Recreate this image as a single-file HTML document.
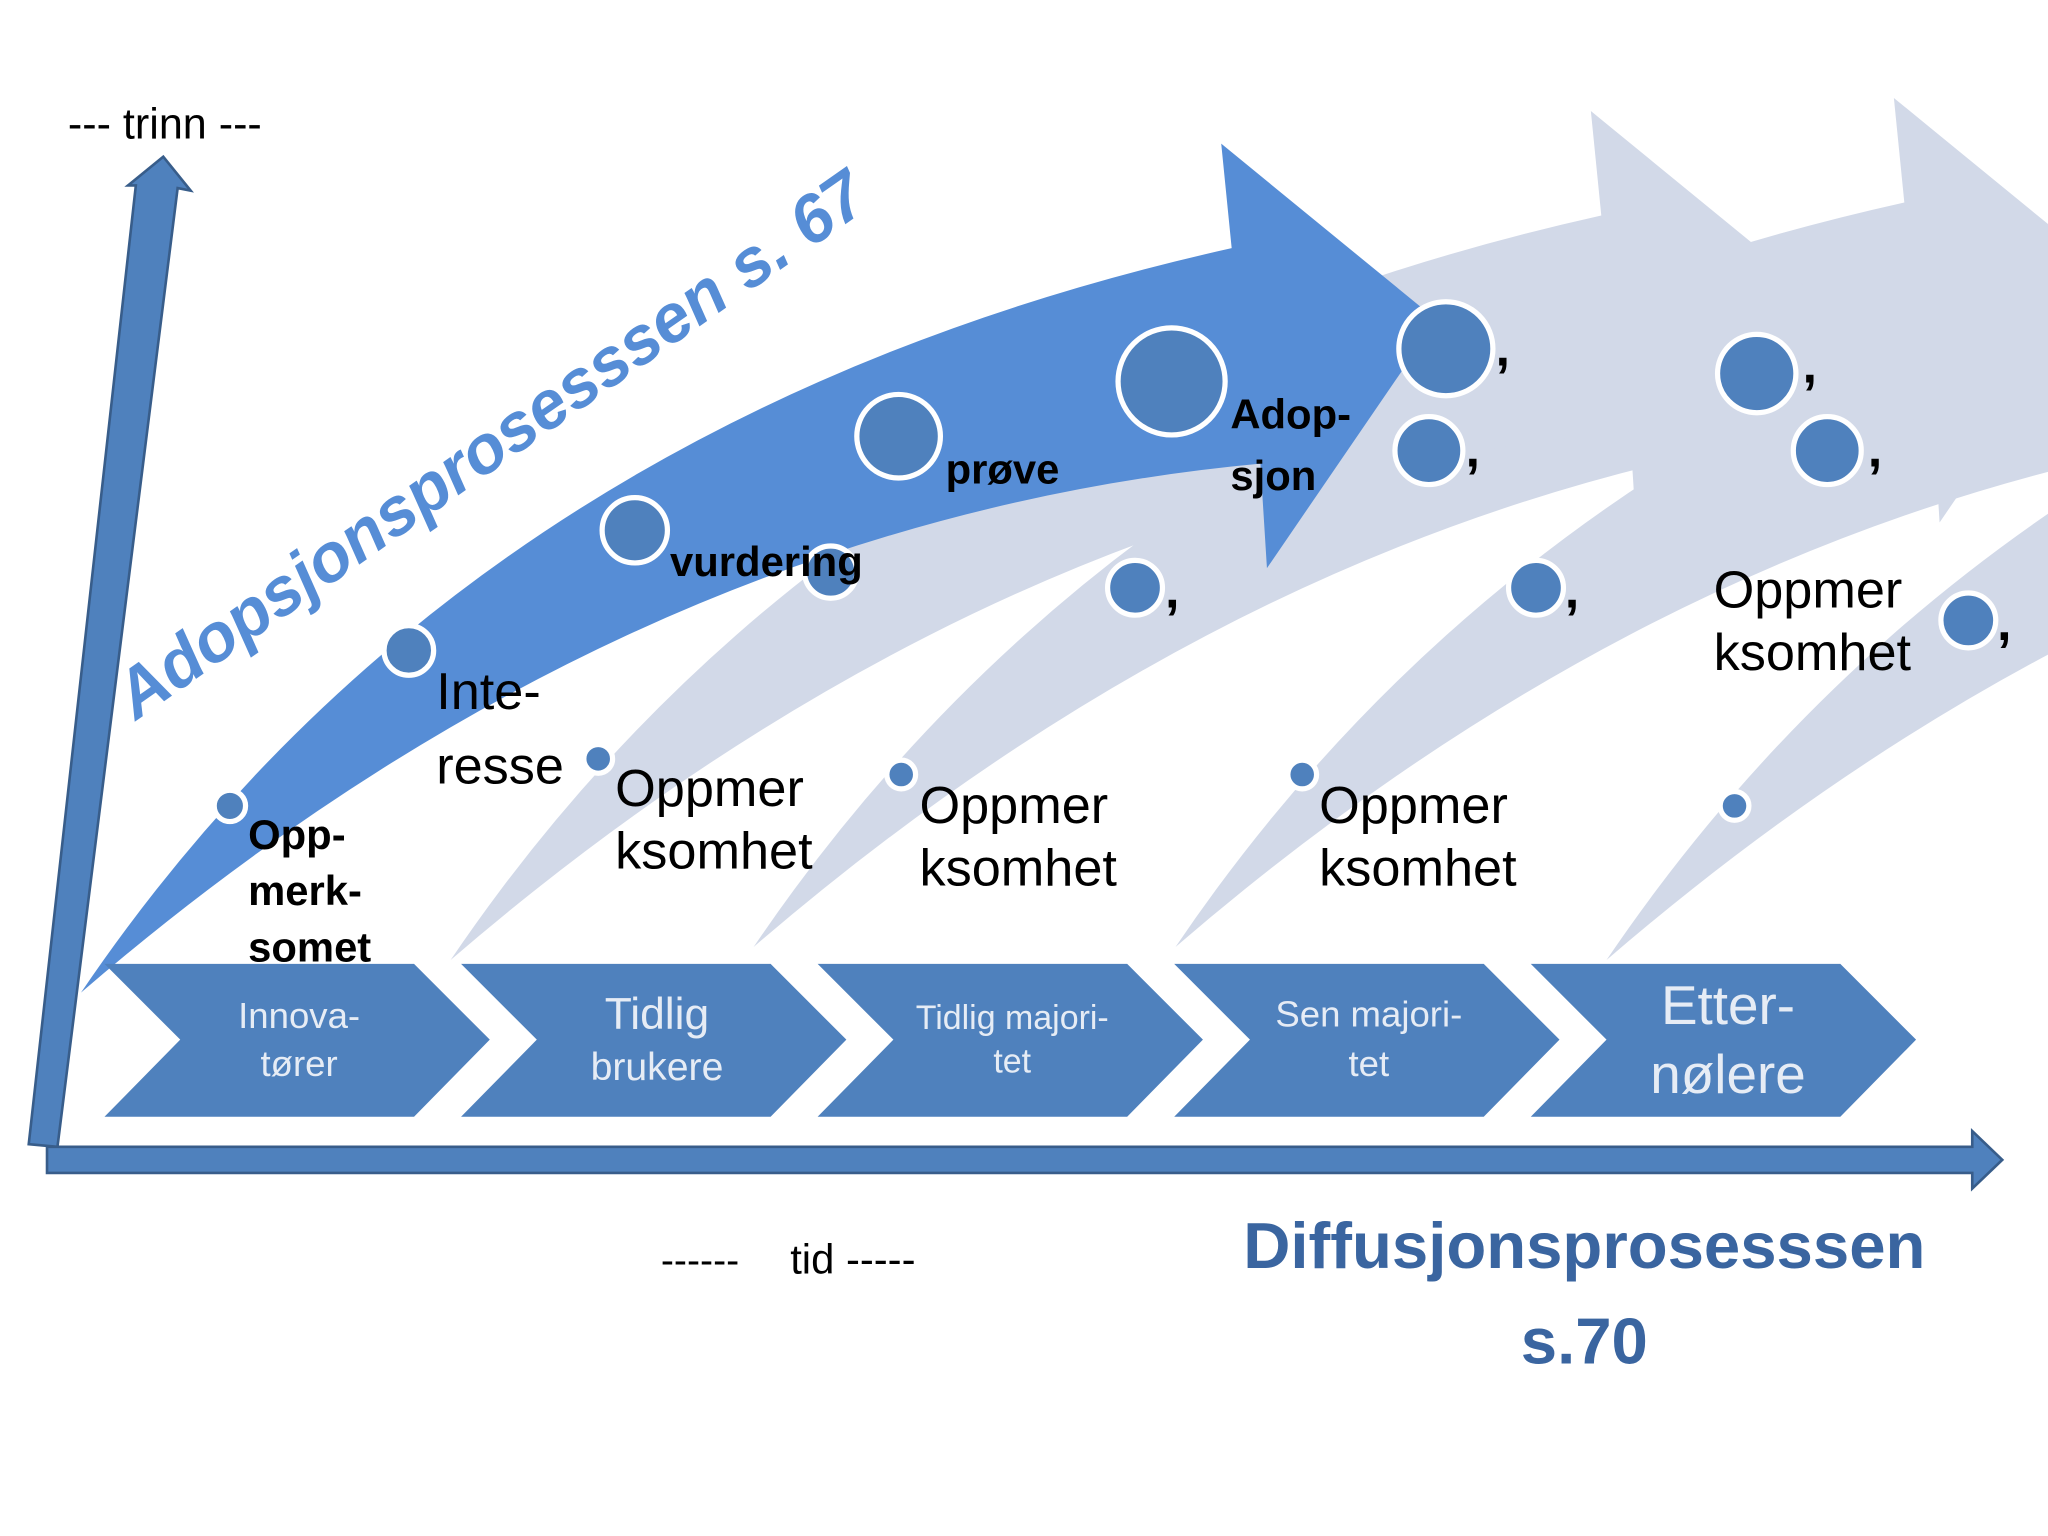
<!DOCTYPE html>
<html><head><meta charset="utf-8"><style>
html,body{margin:0;padding:0;background:#fff;}
svg{display:block;}
text{font-family:"Liberation Sans","DejaVu Sans",sans-serif;}
</style></head><body>
<svg width="2048" height="1536" viewBox="0 0 1568 1176" preserveAspectRatio="none" xmlns="http://www.w3.org/2000/svg">
<defs>
<path id="arr" d="M62,760 Q360,320 943,190 L935,110 L1100,245 L970,435 L965,355 Q480,400 62,760 Z"/>
</defs>
<rect width="1568" height="1176" fill="#fff"/>
<g fill="#d2d9e8">
<use href="#arr" transform="translate(1168,-25)"/>
<use href="#arr" transform="translate(838,-35)"/>
<use href="#arr" transform="translate(515,-35)"/>
<use href="#arr" transform="translate(283,-25)"/>
</g>
<use href="#arr" fill="#568dd6"/>
<g fill="#4f81bd" stroke="#fff" stroke-width="4">
<circle cx="176" cy="617" r="12"/>
<circle cx="313" cy="498" r="19"/>
<circle cx="486" cy="406" r="25"/>
<circle cx="688" cy="334" r="32"/>
<circle cx="897" cy="292" r="41"/>
<circle cx="1107" cy="267" r="36"/>
<circle cx="1094" cy="345" r="26"/>
<circle cx="1345" cy="286" r="30"/>
<circle cx="1399" cy="345" r="26"/>
<circle cx="636" cy="438" r="20"/>
<circle cx="869" cy="450" r="21"/>
<circle cx="1176" cy="450" r="21"/>
<circle cx="1507" cy="475" r="21"/>
<circle cx="458" cy="581" r="11"/>
<circle cx="690" cy="593" r="11"/>
<circle cx="997" cy="593" r="11"/>
<circle cx="1328" cy="617" r="11"/>
</g>
<g font-size="40" font-weight="bold" fill="#000">
<text x="1145" y="280">,</text><text x="1122" y="357">,</text>
<text x="1380" y="293">,</text><text x="1430" y="357">,</text>
<text x="892" y="465">,</text><text x="1198" y="465">,</text><text x="1529" y="490">,</text>
</g>
<polygon points="22,876 104,142 98,142 125,120 146,146 136,144 44,878" fill="#4f81bd" stroke="#385d8a" stroke-width="2"/>
<polygon points="36,878 1510,878 1510,866 1533,888 1510,910 1510,898 36,898" fill="#4f81bd" stroke="#385d8a" stroke-width="2"/>
<g fill="#4f81bd">
<polygon points="80,738 317,738 375,796 317,855 80,855 138,796"/>
<polygon points="353,738 590,738 648,796 590,855 353,855 411,796"/>
<polygon points="626,738 863,738 921,796 863,855 626,855 684,796"/>
<polygon points="899,738 1136,738 1194,796 1136,855 899,855 957,796"/>
<polygon points="1172,738 1409,738 1467,796 1409,855 1172,855 1230,796"/>
</g>
<g fill="#e6ecf5" text-anchor="middle">
<text x="229" y="787" font-size="28">Innova-</text><text x="229" y="824" font-size="28">tører</text>
<text x="503" y="788" font-size="34">Tidlig</text><text x="503" y="827" font-size="30">brukere</text>
<text x="775" y="788" font-size="26">Tidlig majori-</text><text x="775" y="821" font-size="26">tet</text>
<text x="1048" y="786" font-size="28">Sen majori-</text><text x="1048" y="824" font-size="28">tet</text>
<text x="1323" y="784" font-size="42">Etter-</text><text x="1323" y="837" font-size="42">nølere</text>
</g>
<text x="52" y="106" font-size="33">--- trinn ---</text>
<text x="506" y="975" font-size="30">------</text>
<text x="605" y="975" font-size="32">tid -----</text>
<text x="1213" y="971" font-size="50" font-weight="bold" fill="#3a65a0" text-anchor="middle">Diffusjonsprosesssen</text>
<text x="1213" y="1044" font-size="50" font-weight="bold" fill="#3a65a0" text-anchor="middle">s.70</text>
<text x="0" y="0" font-size="52" font-weight="bold" font-style="italic" fill="#568dd6" transform="translate(104,552) rotate(-35)">Adopsjonsprosesssen  s. 67</text>
<g font-weight="bold" font-size="32" fill="#000">
<text x="190" y="650">Opp-</text><text x="190" y="693">merk-</text><text x="190" y="736">somet</text>
<text x="513" y="441">vurdering</text>
<text x="724" y="370">prøve</text>
<text x="942" y="328">Adop-</text><text x="942" y="375">sjon</text>
</g>
<g font-size="40" fill="#000">
<text x="334" y="543">Inte-</text><text x="334" y="600">resse</text>
<text x="471" y="617">Oppmer</text><text x="471" y="665">ksomhet</text>
<text x="704" y="630">Oppmer</text><text x="704" y="678">ksomhet</text>
<text x="1010" y="630">Oppmer</text><text x="1010" y="678">ksomhet</text>
<text x="1312" y="465">Oppmer</text><text x="1312" y="513">ksomhet</text>
</g>
</svg>
</body></html>
